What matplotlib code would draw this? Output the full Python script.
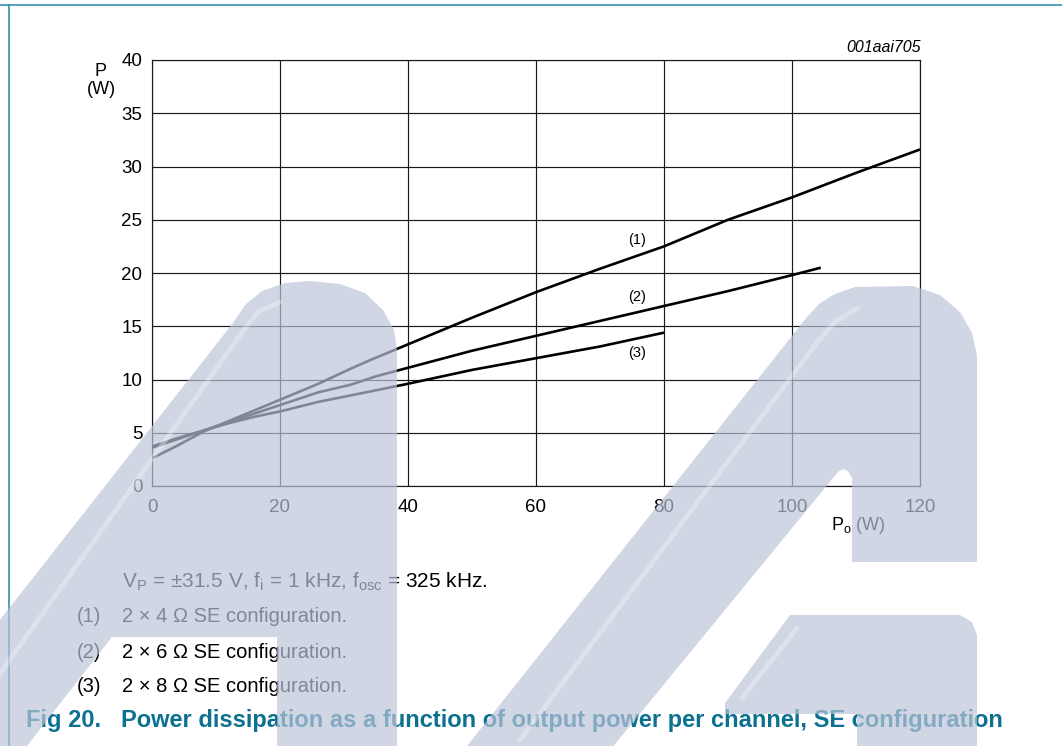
import numpy as np
import matplotlib
matplotlib.use("Agg")
import matplotlib.pyplot as plt
from matplotlib.path import Path
from matplotlib.patches import PathPatch
from matplotlib.transforms import Affine2D

plt.rcParams['font.family'] = ['Liberation Sans', 'DejaVu Sans']
plt.rcParams['mathtext.fontset'] = 'custom'
plt.rcParams['mathtext.rm'] = 'Liberation Sans'
plt.rcParams['mathtext.it'] = 'Liberation Sans:italic'

# --- Power dissipation P (W) vs output power Po (W) ---
po_4ohm = [0, 4, 8, 12, 16, 20, 26, 31, 34, 40, 50, 60, 70, 80, 90, 100, 110, 120]
pd_4ohm = [2.6, 3.8, 5.1, 6.1, 7.1, 8.1, 9.6, 11.0, 11.8, 13.3, 15.8, 18.2, 20.4, 22.5, 25.0, 27.1, 29.4, 31.6]

po_6ohm = [0, 4, 8, 12, 16, 20, 26, 31, 35, 40, 50, 60, 70, 80, 90, 100, 104.5]
pd_6ohm = [3.6, 4.4, 5.2, 6.0, 6.8, 7.6, 8.8, 9.5, 10.3, 11.1, 12.7, 14.1, 15.5, 16.9, 18.3, 19.8, 20.5]

po_8ohm = [0, 4, 8, 12, 16, 20, 26, 31, 40, 50, 60, 70, 80]
pd_8ohm = [3.7, 4.5, 5.2, 5.9, 6.5, 7.0, 7.9, 8.5, 9.6, 10.9, 12.0, 13.1, 14.4]

curve_tags = ['(1)', '(2)', '(3)']
tag_pos = [(75.8, 23.1), (75.8, 17.7), (75.8, 12.5)]

x_ticks = [0, 20, 40, 60, 80, 100, 120]
y_ticks = [0, 5, 10, 15, 20, 25, 30, 35, 40]

notes = ['(1)', '(2)', '(3)']
note_texts = ['2 \u00d7 4 \u03a9 SE configuration.',
              '2 \u00d7 6 \u03a9 SE configuration.',
              '2 \u00d7 8 \u03a9 SE configuration.']

W, H = 1062, 746
fig = plt.figure(figsize=(W / 100, H / 100), dpi=100)
fig.patch.set_facecolor('white')

# pixel (y down) -> figure coords
px = Affine2D().scale(1 / W, -1 / H).translate(0, 1) + fig.transFigure

ax = fig.add_axes([152 / W, 1 - 486 / H, 768 / W, 426 / H])
ax.set_xlim(0, 120)
ax.set_ylim(0, 40)
ax.set_xticks(x_ticks)
ax.set_yticks(y_ticks)
ax.grid(True, color='#1a1a1a', linewidth=0.85)
ax.set_axisbelow(True)
for s in ax.spines.values():
    s.set_color('#1a1a1a')
    s.set_linewidth(0.85)
ax.tick_params(length=0, labelsize=13.5, colors='black')
ax.tick_params(axis='y', pad=7)
ax.tick_params(axis='x', pad=9)

for xs, ys in [(po_4ohm, pd_4ohm), (po_6ohm, pd_6ohm), (po_8ohm, pd_8ohm)]:
    ax.plot(xs, ys, color='black', linewidth=1.9, solid_capstyle='butt', zorder=3)

for tag, (tx, ty) in zip(curve_tags, tag_pos):
    ax.text(tx, ty, tag, fontsize=10.5, ha='center', va='center')

# axis captions
fig.text(101, 71, 'P', transform=px, fontsize=13, ha='center', va='center')
fig.text(101, 90, '(W)', transform=px, fontsize=13, ha='center', va='center')
fig.text(921, 48, '001aai705', transform=px, fontsize=11.5, style='italic', ha='right', va='center')
fig.text(831, 526, r'P$_\mathrm{o}$ (W)', transform=px, fontsize=13, ha='left', va='center')

# conditions and legend
cond = r'V$_\mathrm{P}$ = ' + '\u00b1' + r'31.5 V, f$_\mathrm{i}$ = 1 kHz, f$_\mathrm{osc}$ = 325 kHz.'
fig.text(122, 582, cond, transform=px, fontsize=15, ha='left', va='center')
for i, (n, t) in enumerate(zip(notes, note_texts)):
    y = 617 + 35 * i
    fig.text(77, y, n, transform=px, fontsize=14.5, ha='left', va='center')
    fig.text(122, y, t, transform=px, fontsize=14.5, ha='left', va='center')

fig.text(26, 721, 'Fig 20.   Power dissipation as a function of output power per channel, SE configuration',
         transform=px, fontsize=17, fontweight='bold', color='#0c7190', ha='left', va='center')

# page frame
fig.add_artist(plt.Line2D([0, W], [5, 5], transform=px, color='#3a8db0', linewidth=1.2))
fig.add_artist(plt.Line2D([9, 9], [5, H], transform=px, color='#3a8db0', linewidth=1.2))

# translucent logo overlay
shape_a = [(-110, 760), (233, 323), (245, 305), (262, 291), (285, 283), (310, 281), (340, 284),
           (365, 293), (383, 310), (394, 330), (397, 350), (397, 760), (277, 760), (277, 637),
           (112, 637), (16, 760)]
shape_a_hole = [(195, 530), (273, 428), (277, 434), (277, 530)]
shape_b = [(456, 760), (807, 317), (820, 303), (835, 294), (855, 287), (913, 286), (940, 295),
           (960, 312), (972, 333), (977, 355), (977, 562), (852, 562), (852, 478), (848, 471),
           (843, 469), (838, 472), (602, 760)]
shape_c = [(790, 615), (960, 615), (972, 622), (977, 635), (977, 760), (857, 760), (857, 714),
           (725, 714), (725, 703)]


def closed(pts):
    return list(pts) + [pts[0]], [Path.MOVETO] + [Path.LINETO] * (len(pts) - 1) + [Path.CLOSEPOLY]


verts, codes = [], []
for poly in [shape_a, shape_a_hole, shape_b, shape_c]:
    v, c = closed(poly)
    verts += v
    codes += c
logo = PathPatch(Path(verts, codes), transform=px, facecolor='#bbc4d9', alpha=0.69,
                 edgecolor='none', zorder=20)
fig.add_artist(logo)

# soft highlights along the slanted strokes
streaks = [[(-40, 730), (240, 335), (258, 312), (280, 302)],
           [(520, 740), (815, 345), (835, 322), (858, 308)],
           [(742, 698), (797, 628)]]
for st in streaks:
    xs, ys = zip(*st)
    fig.add_artist(plt.Line2D(xs, ys, transform=px, color='white', alpha=0.3,
                              linewidth=3.5, zorder=21, solid_capstyle='round'))

fig.savefig('out.png', dpi=100)
